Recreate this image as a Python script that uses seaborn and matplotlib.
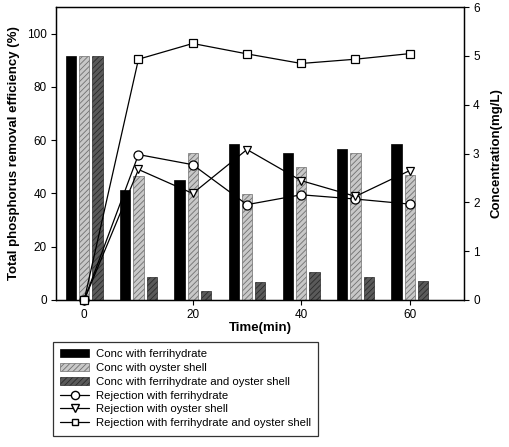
import matplotlib
matplotlib.use("Agg")
import matplotlib.pyplot as plt
from matplotlib.patches import Patch
from matplotlib.lines import Line2D
import pandas as pd
import seaborn as sns

# data
times = [0, 10, 20, 30, 40, 50, 60]
conc_ferri = [5.0, 2.25, 2.45, 3.20, 3.02, 3.10, 3.19]
conc_oyster = [5.0, 2.54, 3.01, 2.17, 2.73, 3.02, 2.55]
conc_both = [5.0, 0.48, 0.18, 0.37, 0.57, 0.48, 0.38]
rej_ferri = [0, 54.6, 50.8, 35.8, 39.5, 37.9, 36.0]
rej_oyster = [0, 49.0, 40.0, 56.5, 44.8, 38.9, 48.6]
rej_both = [0, 90.4, 96.3, 92.4, 88.8, 90.4, 92.5]

conc_labels = ["Conc with ferrihydrate", "Conc with oyster shell",
               "Conc with ferrihydrate and oyster shell"]
rej_labels = ["Rejection with ferrihydrate", "Rejection with oyster shell",
              "Rejection with ferrihydrate and oyster shell"]

df_bar = pd.DataFrame({
    "time": times * 3,
    "conc": conc_ferri + conc_oyster + conc_both,
    "series": [conc_labels[0]] * 7 + [conc_labels[1]] * 7 + [conc_labels[2]] * 7,
})

sns.set_style("ticks")
plt.rcParams["font.family"] = ["Liberation Sans", "DejaVu Sans"]
plt.rcParams["hatch.linewidth"] = 0.6
plt.rcParams["text.color"] = "black"
plt.rcParams["axes.labelcolor"] = "black"
plt.rcParams["xtick.color"] = "black"
plt.rcParams["ytick.color"] = "black"

fig = plt.figure(figsize=(5.1, 4.47), dpi=100)
ax = fig.add_axes([56 / 510, 1 - 300 / 447, 408 / 510, 293 / 447])
ax2 = ax.twinx()

# bars (concentration, right axis)
face = ["black", "#c8c8c8", "#5a5a5a"]
edge = ["black", "#707070", "#2a2a2a"]
hatch = [None, "//////", "//////"]
sns.barplot(data=df_bar, x="time", y="conc", hue="series", hue_order=conc_labels,
            native_scale=True, width=0.735, gap=0.22, dodge=True,
            palette=face, legend=False, ax=ax2, errorbar=None)
for i, cont in enumerate(ax2.containers):
    for p in cont:
        p.set_facecolor(face[i])
        p.set_edgecolor(edge[i])
        p.set_linewidth(0.5)
        if hatch[i]:
            p.set_hatch(hatch[i])

# lines (rejection, left axis)
mk = ["o", "v", "s"]
ms = [6.5, 6.2, 5.6]
for vals, m, s in zip([rej_ferri, rej_oyster, rej_both], mk, ms):
    sns.lineplot(x=times, y=vals, ax=ax, color="black", lw=0.9, marker=m,
                 markersize=s, markerfacecolor="white", markeredgecolor="black",
                 markeredgewidth=0.9, clip_on=False, zorder=5)

ax.set_zorder(ax2.get_zorder() + 1)
ax.patch.set_visible(False)

ax.set_xlim(-5.2, 70)
ax.set_ylim(0, 110)
ax2.set_ylim(0, 6)
ax.set_xticks([0, 20, 40, 60])
ax.set_yticks([0, 20, 40, 60, 80, 100])
ax2.set_yticks([0, 1, 2, 3, 4, 5, 6])

ax.set_xlabel("Time(min)", fontsize=9.5, fontweight="bold", labelpad=1)
ax.set_ylabel("Total phosphorus removal efficiency (%)", fontsize=9.5,
              fontweight="bold", labelpad=5)
ax2.set_ylabel("Concentration(mg/L)", fontsize=9.5, fontweight="bold", labelpad=8)

for a in (ax, ax2):
    a.tick_params(labelsize=8.5, length=3.5, width=0.8, pad=3)
    for sp in a.spines.values():
        sp.set_visible(True)
        sp.set_linewidth(0.9)
        sp.set_color("black")

# legend below the plot
handles = [Patch(facecolor=face[i], edgecolor=edge[i], hatch=hatch[i], linewidth=0.5)
           for i in range(3)]
handles += [Line2D([], [], color="black", lw=0.9, marker=m, markersize=s - 0.6,
                   markerfacecolor="white", markeredgecolor="black")
            for m, s in zip(mk, ms)]
leg = fig.legend(handles, conc_labels + rej_labels, loc="upper left",
                 bbox_to_anchor=(53 / 510, 1 - 342 / 447), fontsize=8.2,
                 frameon=True, fancybox=False, edgecolor="black",
                 handlelength=2.5, handletextpad=0.6, labelspacing=0.33,
                 borderpad=0.65, borderaxespad=0)
leg.get_frame().set_linewidth(0.9)

fig.savefig("out.png", dpi=100)
